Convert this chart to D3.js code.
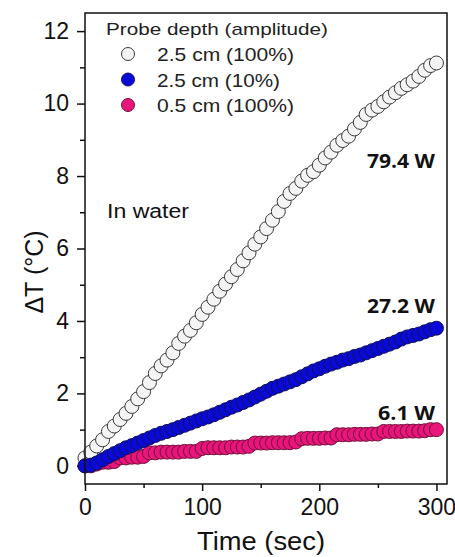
<!DOCTYPE html>
<html>
<head>
<meta charset="utf-8">
<script src="https://cdn.jsdelivr.net/npm/d3@7"></script>
<style>
  body { margin: 0; background: #fff; }
  svg { display: block; }
</style>
</head>
<body>
<div class="chart"></div>
<script type="text/javascript">

// time axis, one reading every 5 s
var time = [0,5,10,15,20,25,30,35,40,45,50,55,60,65,70,75,80,85,90,95,
  100,105,110,115,120,125,130,135,140,145,150,155,160,165,170,175,180,185,190,195,
  200,205,210,215,220,225,230,235,240,245,250,255,260,265,270,275,280,285,290,295,300];

// 2.5 cm (100%)
var deep100 = [0.22,0.38,0.55,0.72,0.95,1.10,1.28,1.45,1.64,1.85,2.05,2.30,2.55,2.76,2.92,3.12,3.38,3.58,3.74,3.95,
  4.18,4.38,4.60,4.82,5.02,5.22,5.42,5.66,5.88,6.12,6.32,6.55,6.78,7.02,7.30,7.52,7.66,7.86,8.02,8.12,
  8.30,8.50,8.66,8.85,8.98,9.10,9.30,9.48,9.70,9.82,9.92,10.05,10.18,10.30,10.42,10.52,10.62,10.75,10.92,11.05,11.12];

// 2.5 cm (10%)
var deep10 = [0.00,0.02,0.08,0.17,0.26,0.34,0.42,0.50,0.56,0.63,0.70,0.77,0.84,0.90,0.95,1.00,1.06,1.12,1.18,1.24,
  1.30,1.35,1.41,1.48,1.55,1.62,1.68,1.75,1.82,1.90,1.98,2.06,2.14,2.20,2.26,2.32,2.38,2.46,2.54,2.62,
  2.68,2.75,2.81,2.86,2.92,2.96,3.02,3.06,3.12,3.18,3.24,3.30,3.36,3.42,3.50,3.56,3.60,3.64,3.70,3.76,3.80];

// 0.5 cm (100%)
var shallow100 = [0.00,0.00,0.05,0.10,0.10,0.12,0.22,0.22,0.24,0.24,0.26,0.36,0.36,0.38,0.38,0.38,0.38,0.40,0.40,0.40,
  0.48,0.50,0.50,0.50,0.50,0.52,0.52,0.52,0.54,0.63,0.63,0.63,0.64,0.64,0.64,0.64,0.66,0.75,0.76,0.76,
  0.76,0.77,0.77,0.86,0.86,0.86,0.87,0.87,0.87,0.88,0.88,0.95,0.95,0.95,0.95,0.96,0.96,0.96,0.97,1.00,1.00];

var seriesNames = ["2.5 cm (100%)", "2.5 cm (10%)", "0.5 cm (100%)"];
var nameWidth = [137, 123, 137];
var seriesFill = ["#f4f4f4", "#0a0ad8", "#e8157a"];
var seriesStroke = ["#3a3a3a", "#10105a", "#70103a"];
var powerLabels = ["79.4 W", "27.2 W", "6.1 W"];
var powerWidth = [68, 68, 57];
var powerAt = [8.45, 4.45, 1.5];

var xTicks = [0, 100, 200, 300];
var yTicks = [0, 2, 4, 6, 8, 10, 12];

var W = 455, H = 557;
var padL = 85, padT = 13, padR = 447, padB = 484;

var svg = d3.select(".chart").append("svg").attr("width", W).attr("height", H);

var x = d3.scaleLinear().domain([0, 309]).range([padL, padR]);
var y = d3.scaleLinear().domain([-0.5, 12.5]).range([padB, padT]);

var font = "'Liberation Sans', Arial, sans-serif";

// axes (ticks outward, minor ticks in between)
var xAxis = svg.append("g").attr("transform", "translate(0," + padB + ")")
  .call(d3.axisBottom(x).tickValues(xTicks).tickSize(7).tickPadding(8).tickFormat(d3.format("d")));
svg.append("g").attr("transform", "translate(0," + padB + ")")
  .call(d3.axisBottom(x).tickValues([50, 150, 250]).tickSize(4).tickFormat(""));
var yAxis = svg.append("g").attr("transform", "translate(" + padL + ",0)")
  .call(d3.axisLeft(y).tickValues(yTicks).tickSize(8).tickPadding(8));
svg.append("g").attr("transform", "translate(" + padL + ",0)")
  .call(d3.axisLeft(y).tickValues([1, 3, 5, 7, 9, 11]).tickSize(5).tickFormat(""));

svg.selectAll(".domain").remove();
svg.selectAll(".tick line").attr("stroke", "#111").attr("stroke-width", 1.5);
xAxis.selectAll("text").style("font-family", font).style("font-size", "23px").attr("fill", "#111");
yAxis.selectAll("text").style("font-family", font).style("font-size", "23px").attr("fill", "#111");

// data: white first, then pink, blue on top
var order = [0, 2, 1];
var dots = svg.append("g");
order.forEach(function(k) {
  var vals = k == 0 ? deep100 : (k == 1 ? deep10 : shallow100);
  dots.append("g").selectAll("circle")
    .data(time)
    .enter().append("circle")
    .attr("cx", function(d) { return x(d); })
    .attr("cy", function(d, i) { return y(vals[i]); })
    .attr("r", 7)
    .attr("fill", seriesFill[k])
    .attr("stroke", seriesStroke[k])
    .attr("stroke-width", 1);
});

// frame
svg.append("rect")
  .attr("x", padL).attr("y", padT)
  .attr("width", padR - padL).attr("height", padB - padT)
  .attr("fill", "none").attr("stroke", "#111").attr("stroke-width", 1.5);

// legend (the original text is a bit wide, so stretch to its measured width)
svg.append("text").attr("x", 106).attr("y", 35)
  .style("font-family", font).style("font-size", "17px").attr("fill", "#222")
  .attr("textLength", 222).attr("lengthAdjust", "spacingAndGlyphs")
  .text("Probe depth (amplitude)");
seriesNames.forEach(function(name, i) {
  var cy = 54 + i * 25.5;
  svg.append("circle").attr("cx", 128).attr("cy", cy).attr("r", 6.5)
    .attr("fill", seriesFill[i]).attr("stroke", seriesStroke[i]).attr("stroke-width", 1);
  svg.append("text").attr("x", 157).attr("y", cy + 7)
    .style("font-family", font).style("font-size", "18px").attr("fill", "#222")
    .attr("textLength", nameWidth[i]).attr("lengthAdjust", "spacingAndGlyphs")
    .text(name);
});

svg.append("text").attr("x", 107).attr("y", 218)
  .style("font-family", font).style("font-size", "20px").attr("fill", "#111")
  .attr("textLength", 82).attr("lengthAdjust", "spacingAndGlyphs")
  .text("In water");

// power labels
powerLabels.forEach(function(lab, i) {
  svg.append("text").attr("x", 435 - powerWidth[i]).attr("y", y(powerAt[i]) + 8)
    .style("font-family", "'Open Sans', sans-serif").style("font-weight", "bold")
    .style("font-size", "20px").attr("fill", "#111")
    .attr("textLength", powerWidth[i]).attr("lengthAdjust", "spacingAndGlyphs")
    .text(lab);
});

// axis titles
svg.append("text").attr("x", 197).attr("y", 550)
  .style("font-family", font).style("font-size", "25px").attr("fill", "#111")
  .attr("textLength", 128).attr("lengthAdjust", "spacingAndGlyphs")
  .text("Time (sec)");
svg.append("text").attr("transform", "translate(43,272) rotate(-90)")
  .attr("text-anchor", "middle")
  .style("font-family", font).style("font-size", "25px").attr("fill", "#111")
  .text("ΔT (°C)");

</script>
</body>
</html>
